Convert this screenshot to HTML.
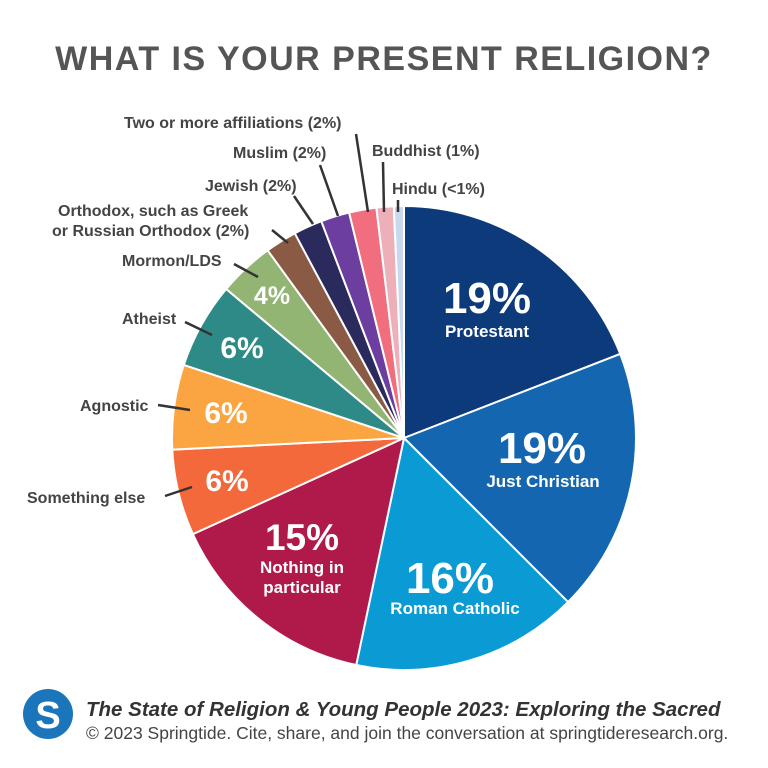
<!DOCTYPE html>
<html><head><meta charset="utf-8"><style>
body{margin:0;background:#fff;width:768px;height:768px;overflow:hidden;font-family:"Liberation Sans",sans-serif}
svg{display:block}
</style></head><body>
<svg width="768" height="768" viewBox="0 0 768 768">
<text x="384" y="70" text-anchor="middle" font-size="34" font-weight="bold" fill="#555" letter-spacing="1.5">WHAT IS YOUR PRESENT RELIGION?</text>
<g id="slices"></g>
<g id="leaders" stroke="#333" stroke-width="2.5"></g>
<g id="outer" font-size="16" font-weight="bold" fill="#444"></g>
<g id="inner" fill="#fff" font-weight="bold" text-anchor="middle"></g>
<circle cx="48" cy="714" r="25" fill="#1a75bb"/>
<text x="48" y="728" text-anchor="middle" font-size="38" font-weight="bold" fill="#fff">S</text>
<text x="86" y="716" font-size="20.5" font-style="italic" font-weight="bold" fill="#333">The State of Religion &amp; Young People 2023: Exploring the Sacred</text>
<text x="86" y="739" font-size="17.5" fill="#444">© 2023 Springtide. Cite, share, and join the conversation at springtideresearch.org.</text>
</svg>
<script>
const categories=["Protestant","Just Christian","Roman Catholic","Nothing in particular","Something else","Agnostic","Atheist","Mormon/LDS","Orthodox","Jewish","Muslim","Two or more affiliations","Buddhist","Hindu"];
const values=[19.1,18.4,15.8,14.9,6,5.9,6,3.9,2.2,2,2,1.9,1.2,0.7];
const colors=["#0d3a7a","#1466b0","#0a9ad4","#b01a4a","#f4693c","#fba542","#2e8a86","#93b574","#8a5a44","#2a2a5c","#6b3ea0","#f06e7e","#eeb0b8","#c8d8ee"];
const printed=["19%","19%","16%","15%","6%","6%","6%","4%"];
const NS="http://www.w3.org/2000/svg";
const cx=404,cy=438,R=232;
const total=values.reduce((a,b)=>a+b,0);
function pt(frac,r){const a=frac*2*Math.PI;return [cx+r*Math.sin(a),cy-r*Math.cos(a)];}
const gs=document.getElementById('slices');
let cum=0;
values.forEach((v,i)=>{
  const s=cum/total,e=(cum+v)/total;cum+=v;
  const [x1,y1]=pt(s,R),[x2,y2]=pt(e,R);
  const p=document.createElementNS(NS,'path');
  p.setAttribute('d',`M${cx},${cy}L${x1},${y1}A${R},${R} 0 ${e-s>0.5?1:0} 1 ${x2},${y2}Z`);
  p.setAttribute('fill',colors[i]);p.setAttribute('stroke','#fff');p.setAttribute('stroke-width','2');
  
  
  gs.appendChild(p);
});
const gi=document.getElementById('inner');
// [x, baseline y, size, sub lines, sub x, first sub offset, sub spacing]
const inner=[[487,313,44,["Protestant"],487,24,0],[542,463,44,["Just Christian"],543,24,0],[450,593,44,["Roman Catholic"],455,21,0],[302,550,37,["Nothing in","particular"],302,23,20],[227,491,30,[]],[226,423,30,[]],[242,358,30,[]],[272,304,25,[]]];
inner.forEach((c,i)=>{
  const t=document.createElementNS(NS,'text');
  t.setAttribute('x',c[0]);t.setAttribute('y',c[1]);
  t.setAttribute('font-size',c[2]);t.textContent=printed[i];
  
  
  gi.appendChild(t);
  c[3].forEach((l,k)=>{
    const s=document.createElementNS(NS,'text');
    s.setAttribute('x',c[4]);s.setAttribute('y',c[1]+c[5]+k*c[6]);
    s.setAttribute('font-size',17);s.textContent=l;
    
    
    gi.appendChild(s);
  });
});
const outerLabels=[
 [4,"Something else",27,503,[165,496,192,487]],
 [5,"Agnostic",80,411,[158,405,190,410]],
 [6,"Atheist",122,324,[185,322,212,335]],
 [7,"Mormon/LDS",122,266,[234,264,258,277]],
 [8,"Orthodox, such as Greek",58,216,[272,230,288,243]],
 [8,"or Russian Orthodox (2%)",52,236,null],
 [9,"Jewish (2%)",205,191,[294,196,313,224]],
 [10,"Muslim (2%)",233,158,[320,165,338,216]],
 [11,"Two or more affiliations (2%)",124,128,[356,134,368,212]],
 [12,"Buddhist (1%)",372,156,[383,162,384,212]],
 [13,"Hindu (<1%)",392,194,[398,200,398,212]]
];
const go=document.getElementById('outer'),gl=document.getElementById('leaders');
outerLabels.forEach(o=>{
  const t=document.createElementNS(NS,'text');
  t.setAttribute('x',o[2]);t.setAttribute('y',o[3]);t.textContent=o[1];
  
  
  go.appendChild(t);
  if(o[4]){const l=document.createElementNS(NS,'line');
    l.setAttribute('x1',o[4][0]);l.setAttribute('y1',o[4][1]);l.setAttribute('x2',o[4][2]);l.setAttribute('y2',o[4][3]);
    
    
    gl.appendChild(l);}
});
</script>
</body></html>
